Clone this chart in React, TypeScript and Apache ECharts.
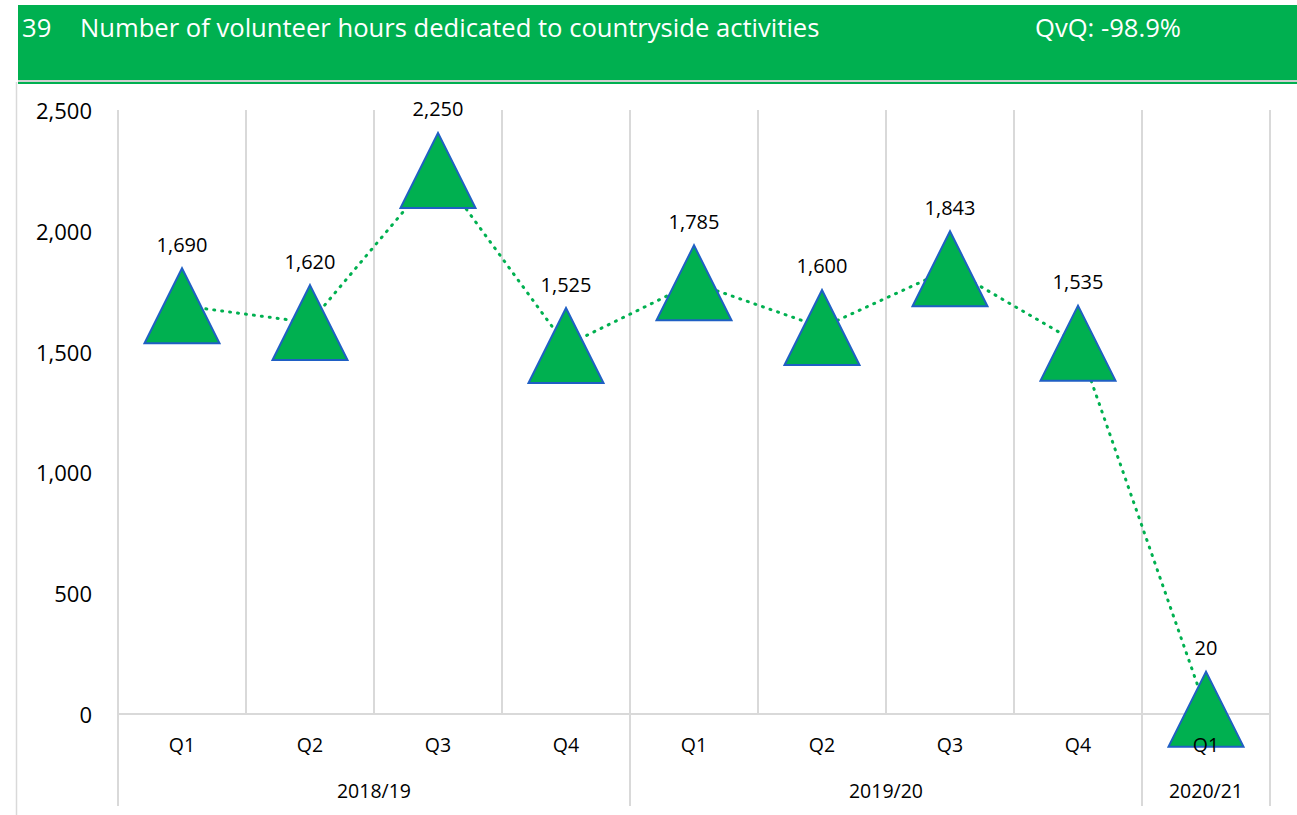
import React, { useEffect, useRef } from "react";
import * as echarts from "echarts";

const quarters = ["Q1", "Q2", "Q3", "Q4", "Q1", "Q2", "Q3", "Q4", "Q1"];
const values = [1690, 1620, 2250, 1525, 1785, 1600, 1843, 1535, 20];
const years = ["2018/19", "2019/20", "2020/21"];
const yearQuarterCounts = [4, 4, 1];
const yTicks = [0, 500, 1000, 1500, 2000, 2500];
const titleNumber = "39";
const titleText = "Number of volunteer hours dedicated to countryside activities";
const changeText = "QvQ: -98.9%";

const FONT = "'Open Sans', 'Noto Sans', sans-serif";
const fmt = (v: number) => v.toLocaleString("en-US");

// Build half-category slots for the year axis: boundaries and centres.
function buildYearSlots() {
  const total = yearQuarterCounts.reduce((a, b) => a + b, 0);
  const slots: string[] = new Array(total * 2 + 1).fill("");
  const boundaries: number[] = [0];
  let start = 0;
  years.forEach((y, i) => {
    const n = yearQuarterCounts[i];
    slots[start * 2 + n] = y;
    start += n;
    boundaries.push(start * 2);
  });
  return { slots, boundaries };
}

export default function App() {
  const ref = useRef<HTMLDivElement>(null);
  useEffect(() => {
    document.body.style.margin = "0";
    if (!ref.current) return;
    const chart = echarts.init(ref.current, null, { renderer: "svg" });
    const { slots, boundaries } = buildYearSlots();
    const grey = "#D9D9D9";
    chart.setOption({
      animation: false,
      backgroundColor: "#FFFFFF",
      textStyle: { fontFamily: FONT },
      graphic: [
        { type: "rect", shape: { x: 18, y: 5, width: 1279, height: 75 }, style: { fill: "#00B050" } },
        { type: "rect", shape: { x: 18, y: 80, width: 1279, height: 2 }, style: { fill: "#D0D0D0" } },
        { type: "rect", shape: { x: 18, y: 82, width: 1279, height: 2 }, style: { fill: "#00B050" } },
        { type: "line", shape: { x1: 16.5, y1: 82, x2: 16.5, y2: 815 }, style: { stroke: grey, lineWidth: 1.5 } },
        { type: "text", x: 22, y: 27, style: { text: titleNumber, fill: "#FFFFFF", font: `25.6px ${FONT}`, verticalAlign: "middle" } },
        { type: "text", x: 80, y: 27, style: { text: titleText, fill: "#FFFFFF", font: `25.6px ${FONT}`, verticalAlign: "middle" } },
        { type: "text", x: 1035, y: 27, style: { text: changeText, fill: "#FFFFFF", font: `25.6px ${FONT}`, verticalAlign: "middle" } },
      ],
      grid: { left: 118, right: 27, top: 110, bottom: 101, containLabel: false },
      xAxis: [
        {
          type: "category",
          data: quarters,
          boundaryGap: true,
          position: "bottom",
          axisLine: { show: true, lineStyle: { color: grey, width: 2 } },
          axisTick: { show: false },
          axisLabel: { show: false },
          splitLine: { show: true, interval: 0, lineStyle: { color: grey, width: 2 } },
        },
        {
          type: "category",
          data: slots,
          boundaryGap: false,
          position: "bottom",
          axisLine: { show: false },
          axisTick: {
            show: true,
            interval: (idx: number) => boundaries.includes(idx),
            length: 92,
            lineStyle: { color: grey, width: 2 },
          },
          axisLabel: { interval: 0, margin: 66, fontSize: 19.5, color: "#000", fontFamily: FONT },
          splitLine: { show: false },
        },
        {
          type: "category",
          data: quarters,
          boundaryGap: true,
          position: "bottom",
          z: 10,
          axisLine: { show: false },
          axisTick: { show: false },
          axisLabel: { interval: 0, margin: 20, fontSize: 19.5, color: "#000", fontFamily: FONT },
          splitLine: { show: false },
        },
      ],
      yAxis: {
        type: "value",
        min: yTicks[0],
        max: yTicks[yTicks.length - 1],
        interval: yTicks[1] - yTicks[0],
        axisLine: { show: false },
        axisTick: { show: false },
        splitLine: { show: false },
        axisLabel: { margin: 26, fontSize: 22, color: "#000", fontFamily: FONT, formatter: (v: number) => fmt(v) },
      },
      series: [
        {
          type: "line",
          xAxisIndex: 0,
          data: values,
          symbol: "triangle",
          symbolSize: [75, 75],
          itemStyle: { color: "#00B050", borderColor: "#1F5FC4", borderWidth: 2 },
          lineStyle: { color: "#00B050", width: 3, type: [1, 7], cap: "round" },
          label: {
            show: true,
            position: "top",
            distance: 13,
            fontSize: 20,
            color: "#000",
            fontFamily: FONT,
            formatter: (p: any) => fmt(p.value),
          },
          z: 3,
        },
      ],
    });
    return () => chart.dispose();
  }, []);
  return <div ref={ref} style={{ width: 1297, height: 815 }} />;
}
